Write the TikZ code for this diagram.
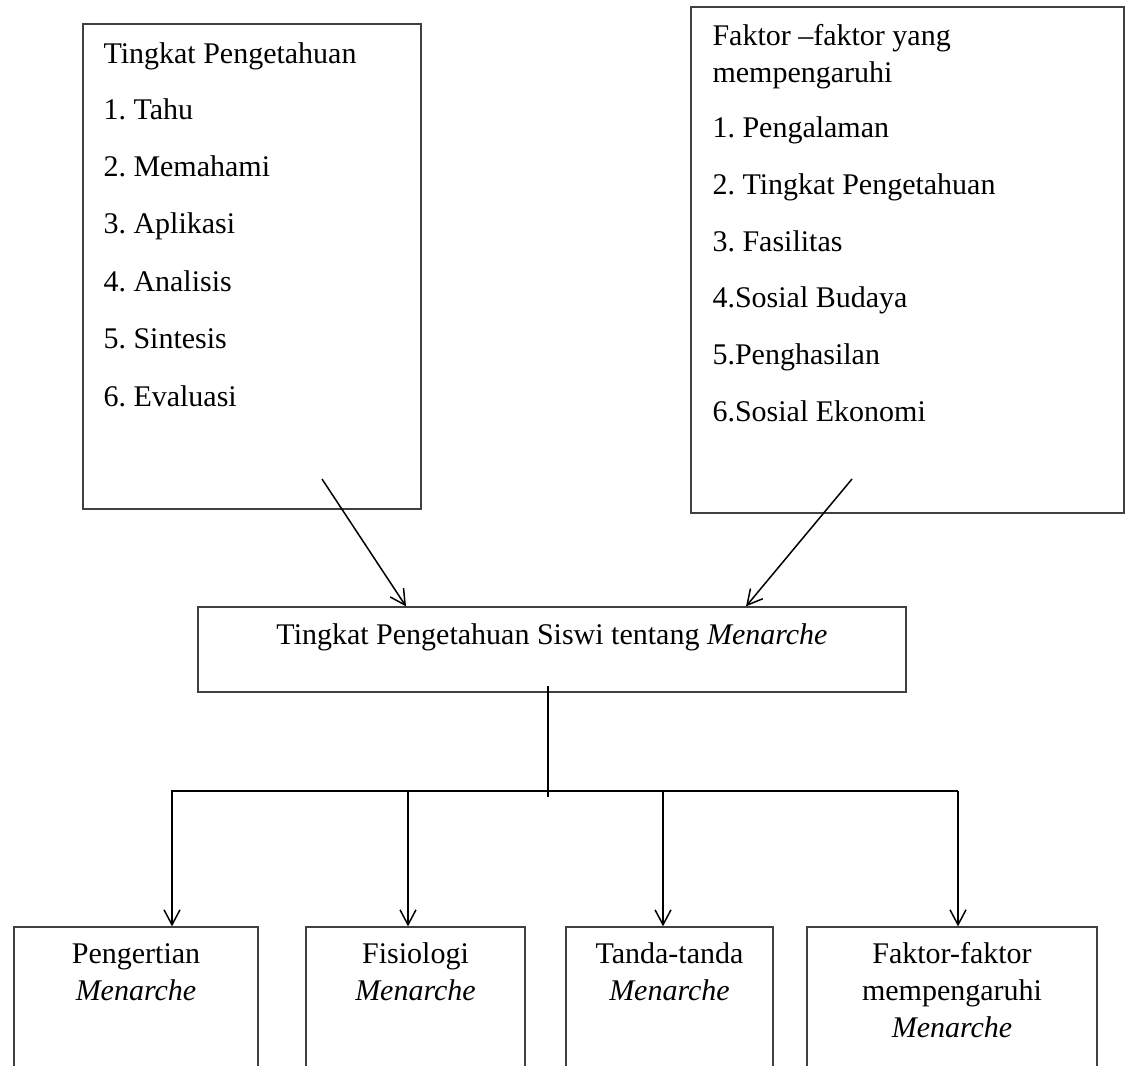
\documentclass[tikz,border=0pt]{standalone}
\usepackage{fontspec}
\setmainfont{Liberation Serif}
\usetikzlibrary{arrows.meta}
\frenchspacing
\begin{document}
\begin{tikzpicture}[x=0.4pt,y=-0.4pt,
  box/.style={draw=black!75, line width=0.5pt, rectangle, inner sep=0pt},
  txt/.style={anchor=base west, inner sep=0pt, font=\fontsize{12pt}{14.4pt}\selectfont\frenchspacing},
  ctxt/.style={anchor=base, inner sep=0pt, font=\fontsize{12pt}{14.4pt}\selectfont\frenchspacing},
  link/.style={draw=black, line width=0.6pt},
  arr/.style={link, -{Straight Barb[length=6pt,width=6.4pt,line width=0.6pt]}}]
\clip (0,0) rectangle (1126,1066);
\fill[white] (0,0) rectangle (1126,1066);

% top boxes
\node[box, minimum width=135.2pt, minimum height=194pt] (lbox) at (252,266.5) {};
\node[box, minimum width=173.2pt, minimum height=202.4pt] (rbox) at (907.5,260) {};

% left box text
\node[txt] (l0) at (103,63) {Tingkat Pengetahuan};
\node[txt] (l1) at (103,119) {1. Tahu};
\node[txt] (l2) at (103,176) {2. Memahami};
\node[txt] (l3) at (103,233) {3. Aplikasi};
\node[txt] (l4) at (103,291) {4. Analisis};
\node[txt] (l5) at (103,348) {5. Sintesis};
\node[txt] (l6) at (103,406) {6. Evaluasi};

% right box text
\node[txt] (r0) at (712,45) {Faktor –faktor yang};
\node[txt] (r0b) at (712,82) {mempengaruhi};
\node[txt] (r1) at (712,137) {1. Pengalaman};
\node[txt] (r2) at (712,194) {2. Tingkat Pengetahuan};
\node[txt] (r3) at (712,251) {3. Fasilitas};
\node[txt] (r4) at (712,307) {4.Sosial Budaya};
\node[txt] (r5) at (712,364) {5.Penghasilan};
\node[txt] (r6) at (712,421) {6.Sosial Ekonomi};

% middle box
\node[box, minimum width=283.2pt, minimum height=34pt] (mid) at (552,649.5) {};
\node[ctxt] (midtxt) at (552,644) {Tingkat Pengetahuan Siswi tentang \textit{Menarche}};

% bottom boxes
\node[box, minimum width=97.6pt, minimum height=65.2pt] (b1) at (136,1008.5) {};
\node[box, minimum width=87.6pt, minimum height=65.2pt] (b2) at (415.5,1008.5) {};
\node[box, minimum width=82.8pt, minimum height=65.2pt] (b3) at (669.5,1008.5) {};
\node[box, minimum width=116pt, minimum height=65.2pt] (b4) at (952,1008.5) {};

\node[ctxt] (b1a) at (136,963) {Pengertian};
\node[ctxt] (b1b) at (136,1000) {\textit{Menarche}};
\node[ctxt] (b2a) at (415.5,963) {Fisiologi};
\node[ctxt] (b2b) at (415.5,1000) {\textit{Menarche}};
\node[ctxt] (b3a) at (669.5,963) {Tanda-tanda};
\node[ctxt] (b3b) at (669.5,1000) {\textit{Menarche}};
\node[ctxt] (b4a) at (952,963) {Faktor-faktor};
\node[ctxt] (b4b) at (952,1000) {mempengaruhi};
\node[ctxt] (b4c) at (952,1037) {\textit{Menarche}};

% diagonal arrows
\coordinate (a1s) at (322,479);
\coordinate (a1x) at (406,0);
\coordinate (a2s) at (852,479);
\coordinate (a2x) at (746,0);
\draw[arr] (a1s) -- (a1x |- mid.north);
\draw[arr] (a2s) -- (a2x |- mid.north);

% stem and bus
\coordinate (stemtop) at (548,686);
\coordinate (stembot) at (548,797);
\draw[link] (stemtop) -- (stembot);
\coordinate (busL) at (171,791);
\coordinate (busR) at (958,791);
\draw[link] (busL) -- (busR);

\coordinate (d1) at (172,791);
\coordinate (d2) at (408,791);
\coordinate (d3) at (663,791);
\coordinate (d4) at (958,791);
\draw[arr] (d1) -- (d1 |- b1.north);
\draw[arr] (d2) -- (d2 |- b2.north);
\draw[arr] (d3) -- (d3 |- b3.north);
\draw[arr] (d4) -- (d4 |- b4.north);
\end{tikzpicture}
\end{document}
